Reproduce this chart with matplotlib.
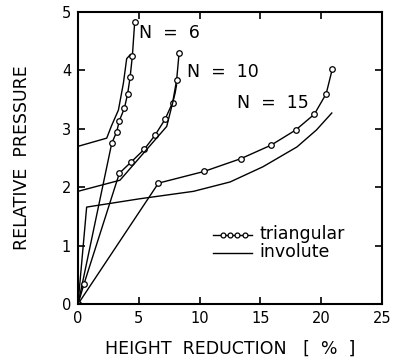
import matplotlib
matplotlib.use('Agg')
import matplotlib.pyplot as plt

# triangular (with markers)
tri6_x = [0, 2.77, 3.18, 3.40, 3.81, 4.08, 4.28, 4.47, 4.66]
tri6_y = [0, 2.75, 2.95, 3.14, 3.35, 3.60, 3.88, 4.25, 4.83]
tri10_x = [0, 0.5, 3.40, 4.36, 5.45, 6.33, 7.15, 7.78, 8.11, 8.31]
tri10_y = [0, 0.35, 2.24, 2.43, 2.65, 2.89, 3.16, 3.45, 3.84, 4.30]
tri15_x = [0, 6.61, 10.36, 13.4, 15.87, 17.9, 19.43, 20.4, 20.9]
tri15_y = [0, 2.07, 2.27, 2.49, 2.72, 2.98, 3.25, 3.60, 4.02]

# involute (plain line)
inv6_x = [0, 0, 2.36, 2.75, 3.32, 3.73, 4.0, 4.3]
inv6_y = [0, 2.70, 2.84, 3.05, 3.32, 3.78, 4.2, 4.27]
inv10_x = [0, 0, 3.45, 5.37, 7.29, 7.98, 8.1]
inv10_y = [0, 1.93, 2.12, 2.58, 3.04, 3.61, 3.75]
inv15_x = [0, 0.71, 5.0, 9.5, 12.5, 15.2, 18.0, 19.6, 20.86]
inv15_y = [0, 1.66, 1.80, 1.93, 2.09, 2.35, 2.69, 2.98, 3.27]

labels = ['N  =  6', 'N  =  10', 'N  =  15']
label_pos = [(5.0, 4.64), (9.0, 3.97), (13.1, 3.45)]

fig = plt.figure(figsize=(3.96, 3.62), dpi=100)
ax = fig.add_axes([0.197, 0.160, 0.768, 0.807])

mk = dict(marker='o', markersize=4, markerfacecolor='white', markeredgecolor='black',
          markeredgewidth=0.9, color='black', linewidth=1.0)
for x, y in [(tri6_x, tri6_y), (tri10_x, tri10_y), (tri15_x, tri15_y)]:
    ax.plot(x, y, **mk)
for x, y in [(inv6_x, inv6_y), (inv10_x, inv10_y), (inv15_x, inv15_y)]:
    ax.plot(x, y, color='black', linewidth=1.0)

for t, (x, y) in zip(labels, label_pos):
    ax.text(x, y, t, fontsize=12.5, va='center', ha='left')

# legend drawn by hand
leg_x = [11.1, 14.3]
ax.plot(leg_x, [1.18, 1.18], color='black', linewidth=1.0)
ax.plot([11.9, 12.5, 13.1, 13.7], [1.18] * 4, linestyle='none', marker='o', markersize=3.5,
        markerfacecolor='white', markeredgecolor='black', markeredgewidth=0.9)
ax.plot(leg_x, [0.87, 0.87], color='black', linewidth=1.0)
ax.text(14.9, 1.2, 'triangular', fontsize=12.5, va='center')
ax.text(14.9, 0.89, 'involute', fontsize=12.5, va='center')

ax.set_xlim(0, 25)
ax.set_ylim(0, 5)
ax.set_xticks([0, 5, 10, 15, 20, 25])
ax.set_yticks([0, 1, 2, 3, 4, 5])
ax.tick_params(direction='in', top=True, right=True, length=5, width=1.2, labelsize=10.5, pad=5)
for s in ax.spines.values():
    s.set_linewidth(1.5)
ax.set_xlabel('HEIGHT  REDUCTION   [  %  ]', fontsize=12.5, labelpad=10)
ax.set_ylabel('RELATIVE  PRESSURE', fontsize=12.5, labelpad=22)

fig.savefig('out.png', dpi=100)
